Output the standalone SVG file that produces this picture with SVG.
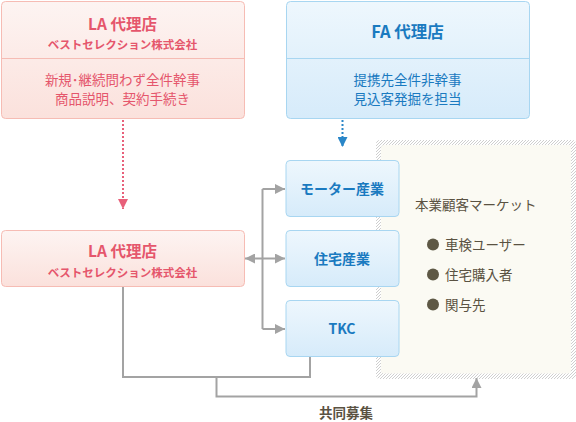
<svg xmlns="http://www.w3.org/2000/svg" width="576" height="422" viewBox="0 0 576 422">
<defs>
<linearGradient id="gPink" x1="0" y1="0" x2="0" y2="1"><stop offset="0" stop-color="#fdf4f2"/><stop offset="1" stop-color="#fbe1dc"/></linearGradient>
<linearGradient id="gBlue" x1="0" y1="0" x2="0" y2="1"><stop offset="0" stop-color="#eef7fd"/><stop offset="1" stop-color="#d6ebfa"/></linearGradient>
<pattern id="hatch" width="3" height="3" patternUnits="userSpaceOnUse"><rect width="3" height="3" fill="#fff"/><path d="M0,3 L3,0" stroke="#cfcfcf" stroke-width="1"/></pattern>
<marker id="aGray" viewBox="0 0 10 10" refX="10" refY="5" markerWidth="10" markerHeight="10" markerUnits="userSpaceOnUse" orient="auto"><path d="M0,0 L10,5 L0,10 Z" fill="#a3a3a3"/></marker>
<marker id="aPink" viewBox="0 0 10 10" refX="10" refY="5" markerWidth="10" markerHeight="10" markerUnits="userSpaceOnUse" orient="auto"><path d="M0,0 L10,5 L0,10 Z" fill="#e8607a"/></marker>
<marker id="aBlue" viewBox="0 0 10 10" refX="10" refY="5" markerWidth="10" markerHeight="10" markerUnits="userSpaceOnUse" orient="auto"><path d="M0,0 L10,5 L0,10 Z" fill="#2a86c8"/></marker>
</defs>
<style>
.pink{fill:url(#gPink);stroke:#f6bcb4;stroke-width:1}
.blue{fill:url(#gBlue);stroke:#a8d6f1;stroke-width:1}
text{font-family:"Noto Sans CJK JP","Noto Sans",sans-serif;text-anchor:middle}
.lt{fill:#e5566c;font-weight:bold;font-size:15.5px}
.ls{fill:#e5566c;font-weight:bold;font-size:11.5px}
.lb{fill:#e5566c;font-size:13.5px}
.bt{fill:#1a7ac0;font-weight:bold;font-size:16.5px}
.bb{fill:#1a7ac0;font-size:13.5px}
.bn{fill:#1a7ac0;font-weight:bold;font-size:14px}
.mk{fill:#5a5242;font-size:13.5px;text-anchor:start}
.conn{fill:none;stroke:#a3a3a3;stroke-width:2}
</style>
<g id="market">
<rect x="376" y="140" width="200" height="239" rx="4" fill="url(#hatch)"/>
<rect x="381" y="145" width="190" height="228.5" rx="3" fill="#fbfaf3"/>
<text class="mk" x="415" y="210">本業顧客マーケット</text>
<circle cx="433" cy="244.5" r="6" fill="#5e5845"/>
<text class="mk" x="445" y="249.5">車検ユーザー</text>
<circle cx="433" cy="274.5" r="6" fill="#5e5845"/>
<text class="mk" x="445" y="279.5">住宅購入者</text>
<circle cx="433" cy="304.5" r="6" fill="#5e5845"/>
<text class="mk" x="445" y="309.5">関与先</text>
</g>
<g id="connectors">
<path d="M123,120 V209" fill="none" stroke="#e8607a" stroke-width="2" stroke-dasharray="2,2" marker-end="url(#aPink)" />
<path d="M342.5,120 V147" fill="none" stroke="#2a86c8" stroke-width="2" stroke-dasharray="2,2" marker-end="url(#aBlue)"/>
<path class="conn" d="M262.5,189 V329"/>
<path class="conn" d="M262.5,189 H285" marker-end="url(#aGray)"/>
<path class="conn" d="M262.5,258.5 H285" marker-end="url(#aGray)"/>
<path class="conn" d="M262.5,329 H285" marker-end="url(#aGray)"/>
<path class="conn" d="M262.5,258.5 H245" marker-end="url(#aGray)"/>
<path class="conn" d="M123,287 V377 H310 V357"/>
<path class="conn" d="M216.5,377 V396.5 H476.5 V378" marker-end="url(#aGray)"/>
<text x="346" y="418" style="fill:#5a5242;font-size:13.5px;font-weight:bold">共同募集</text>
</g>
<g id="la-top">
<rect class="pink" x="1.5" y="1.5" width="243" height="117" rx="4"/>
<line x1="2" y1="58.5" x2="244" y2="58.5" stroke="#f6bcb4"/>
<text class="lt" x="122.5" y="30">LA 代理店</text>
<text class="ls" x="122.5" y="48.5">ベストセレクション株式会社</text>
<text class="lb" x="122.5" y="85">新規･継続問わず全件幹事</text>
<text class="lb" x="122.5" y="103.5">商品説明、契約手続き</text>
</g>
<g id="fa-top">
<rect class="blue" x="286.5" y="1.5" width="243" height="117" rx="4"/>
<line x1="287" y1="58.5" x2="529" y2="58.5" stroke="#a8d6f1"/>
<text class="bt" x="407.5" y="38">FA 代理店</text>
<text class="bb" x="407.5" y="85">提携先全件非幹事</text>
<text class="bb" x="407.5" y="103.5">見込客発掘を担当</text>
</g>
<g id="la-mid">
<rect class="pink" x="1.5" y="230.5" width="243" height="56" rx="4"/>
<text class="lt" x="122.5" y="256.5">LA 代理店</text>
<text class="ls" x="122.5" y="276.5">ベストセレクション株式会社</text>
</g>
<g id="motor">
<rect class="blue" x="286" y="160.5" width="113" height="56" rx="4"/>
<text class="bn" x="342" y="194">モーター産業</text>
</g>
<g id="housing">
<rect class="blue" x="286" y="230.5" width="113" height="56" rx="4"/>
<text class="bn" x="342" y="264">住宅産業</text>
</g>
<g id="tkc">
<rect class="blue" x="286" y="300.5" width="113" height="56" rx="4"/>
<text class="bn" x="342" y="334">TKC</text>
</g>
</svg>
